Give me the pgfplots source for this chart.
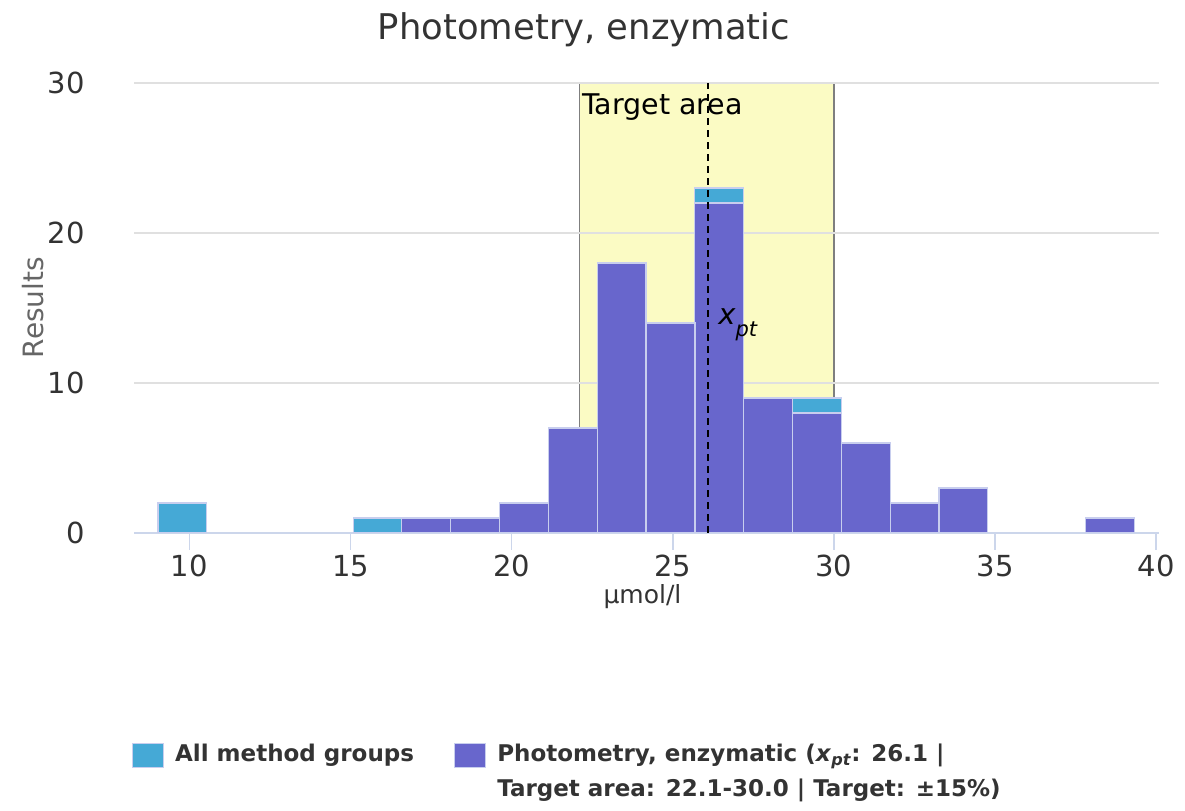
\documentclass[border=0pt]{standalone}
\usepackage{fontspec}
\setmainfont{DejaVu Sans}
\usepackage{pgfplots}
\pgfplotsset{compat=1.18}
\definecolor{cyanc}{HTML}{45A9D6}
\definecolor{purplec}{HTML}{6866CC}
\definecolor{bandc}{HTML}{FBFBC4}
\definecolor{edgec}{HTML}{C8CEEE}
\definecolor{gridc}{HTML}{E0E0E0}
\definecolor{axisc}{HTML}{CCD6EB}
\definecolor{textc}{HTML}{333333}
\definecolor{ylabc}{HTML}{666666}
\definecolor{bordc}{HTML}{7F7F7F}
\pgfplotsset{sqlegend/.style={legend image code/.code={\draw[##1] (0bp,-12bp) rectangle (31bp,12bp);}}}
\begin{document}
\begin{tikzpicture}[x=1bp,y=1bp]
\begin{axis}[
  at={(134bp,278bp)}, anchor=south west,
  scale only axis, width=1025bp, height=450bp,
  xmin=8.28, xmax=40.09, ymin=0, ymax=30,
  set layers,
  axis x line*=bottom, axis y line*=left,
  x axis line style={draw=axisc, line width=1.7bp, -},
  y axis line style={draw=none},
  xtick={10,15,...,40}, ytick={0,10,20,30},
  tick align=outside,
  major tick length=17bp,
  xtick style={draw=axisc, line width=1.5bp},
  ytick style={draw=none},
  ymajorgrids, major grid style={draw=gridc, line width=1.5bp},
  /pgf/number format/assume math mode=true,
  tick label style={font=\fontsize{29bp}{30bp}\selectfont, text=textc, inner sep=0pt},
  xticklabel style={anchor=north, yshift=-5bp},
  yticklabel style={anchor=east, xshift=-32bp},
  legend columns=2,
  legend cell align=left,
  legend style={
    at={(axis description cs:-0.002,-0.4667)}, anchor=north west,
    draw=none, fill=none, inner sep=0pt, outer sep=0pt,
    font=\bfseries\fontsize{23bp}{28bp}\selectfont, text=textc,
    nodes={inner sep=0pt, text height=17bp, text depth=5bp},
    row sep=11bp,
    /tikz/every odd column/.style={column sep=11bp},
    /tikz/every even column/.style={column sep=40bp},
  },
]
% target band (behind grid)
\addplot[on layer=axis background, fill=bandc, draw=none, forget plot]
  coordinates {(22.1,0) (22.1,30) (30,30) (30,0)} \closedcycle;
\addplot[on layer=axis background, draw=bordc, line width=1.5bp, forget plot]
  coordinates {(22.1,0) (22.1,30)};
\addplot[on layer=axis background, draw=bordc, line width=1.5bp, forget plot]
  coordinates {(30,0) (30,30)};
% all method groups
\addplot[ybar, bar width=1.515, bar shift=0pt, fill=cyanc, draw=edgec, line width=1.2bp, sqlegend]
  coordinates {(9.78,2) (15.84,1) (17.35,1) (18.87,1) (20.38,2) (21.90,7) (23.41,18)
  (24.93,14) (26.44,23) (27.96,9) (29.48,9) (30.99,6) (32.51,2) (34.02,3) (38.56,1)};
\addlegendentry{All method groups}
% photometry, enzymatic
\addplot[ybar, bar width=1.515, bar shift=0pt, fill=purplec, draw=edgec, line width=1.2bp, sqlegend]
  coordinates {(17.35,1) (18.87,1) (20.38,2) (21.90,7) (23.41,18) (24.93,14) (26.44,22)
  (27.96,9) (29.48,8) (30.99,6) (32.51,2) (34.02,3) (38.56,1)};
\addlegendentry{Photometry, enzymatic (\textit{x}\textsubscript{\textit{pt}}: 26.1 |}
\addlegendimage{empty legend}
\addlegendentry{}
\addlegendimage{empty legend}
\addlegendentry{Target area: 22.1-30.0 | Target: ±15\%)}
% x_pt line
\addplot[black, line width=1.8bp, dash pattern=on 7bp off 5bp, forget plot]
  coordinates {(26.1,0) (26.1,30)};
\node[anchor=base west, inner sep=0pt, font=\fontsize{28.5bp}{30bp}\selectfont, xshift=2.5bp]
  at (axis cs:22.1,27.87) {Target area};
\node[anchor=base west, inner sep=0pt, font=\fontsize{29bp}{30bp}\selectfont\itshape, xshift=10bp]
  at (axis cs:26.1,13.87) {x\raisebox{-12bp}{\fontsize{21bp}{21bp}\selectfont pt}};
\end{axis}
\node[anchor=base, inner sep=0pt, text=textc, font=\fontsize{35.4bp}{36bp}\selectfont]
  at (584,771) {Photometry, enzymatic};
\node[anchor=base, inner sep=0pt, text=textc, font=\fontsize{25bp}{26bp}\selectfont]
  at (642.5,207) {µmol/l};
\node[anchor=base, rotate=90, inner sep=0pt, text=ylabc, font=\fontsize{28bp}{29bp}\selectfont]
  at (43,503.5) {Results};
\pgfresetboundingbox
\useasboundingbox (0,0) rectangle (1185,811);
\end{tikzpicture}
\end{document}
